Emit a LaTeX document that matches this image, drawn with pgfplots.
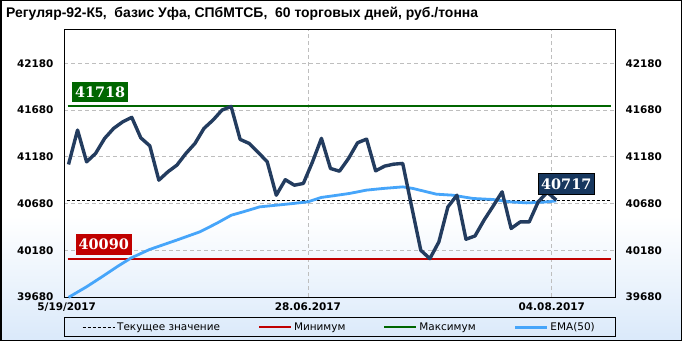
\documentclass[border=0pt]{standalone}
\usepackage{pgfplots}
\pgfplotsset{compat=1.18}
\usepackage{fontspec}
\setmainfont{DejaVu Sans}
\newfontfamily\titlefont{Liberation Sans}
\newfontfamily\boxfont{DejaVu Serif}
\definecolor{darkline}{RGB}{35,60,95}
\definecolor{emablue}{RGB}{70,165,250}
\definecolor{maxgreen}{RGB}{0,102,0}
\definecolor{minred}{RGB}{192,0,0}
\definecolor{navybox}{RGB}{23,55,94}
\definecolor{bgblue}{RGB}{218,233,250}
\definecolor{gridgray}{RGB}{190,190,190}
\begin{document}
\begin{tikzpicture}
% background
\fill[white] (0,0) rectangle (682bp,341bp);
\shade[top color=white, bottom color=bgblue] (0,0) rectangle (682bp,125bp);
\draw[black, line width=1.5bp] (0.75bp,0.75bp) rectangle (681.25bp,340.25bp);
% title
\node[anchor=west, inner sep=0pt] at (6bp,327bp) {\titlefont\bfseries\fontsize{14}{16}\selectfont Регуляр-92-К5,\ \ базис Уфа, СПбМТСБ,\ \ 60 торговых\ дней, руб./тонна};
% legend frame
\draw[black, line width=1bp] (64bp,4bp) rectangle (615bp,23bp);
\begin{axis}[
  at={(64bp,44bp)}, anchor=south west,
  scale only axis, width=551bp, height=268bp,
  xmin=-0.5, xmax=60.5, ymin=39680, ymax=42547,
  scaled y ticks=false, scaled x ticks=false,
  xtick={26.5,53.5}, xticklabels={28.06.2017,04.08.2017},
  extra x ticks={-0.2}, extra x tick labels={5/19/2017},
  extra x tick style={grid=none},
  ytick={39680,40180,40680,41180,41680,42180},
  yticklabels={39680,40180,40680,41180,41680,42180},
  grid=major,
  major grid style={gridgray, dash pattern=on 4bp off 3bp, line width=0.6bp},
  major tick length=0pt,
  axis line style={black, line width=0.9bp},
  tick label style={font=\fontsize{10.5}{12}\selectfont\bfseries},
  yticklabel style={xshift=-7bp},
  xticklabel style={yshift=-2bp},
  clip=false,
  legend columns=4,
  legend style={draw=none, fill=none, at={(0.5,-0.1138)}, anchor=center,
    font=\fontsize{10.5}{12}\selectfont, inner sep=0pt,
    /tikz/every even column/.append style={column sep=36bp}},
  legend image code/.code={\draw[#1] (0bp,0bp) -- (32bp,0bp);},
]
\addplot[black, line width=0.9bp, dash pattern=on 3bp off 2bp] coordinates {(-0.2,40717) (60.1,40717)};
\addlegendentry{Текущее значение}
\addplot[minred, line width=2bp] coordinates {(-0.1,40090) (60.1,40090)};
\addlegendentry{Минимум}
\addplot[maxgreen, line width=2bp] coordinates {(-0.1,41718) (60.1,41718)};
\addlegendentry{Максимум}
\addplot[emablue, line width=2.8bp] coordinates {
(0,39676) (1.96,39787) (3.80,39902) (5.46,40009) (6.94,40098) (8.97,40188)
(11.93,40287) (14.51,40376) (16.36,40466) (18.02,40555) (19.30,40590)
(21.15,40644) (23.0,40662) (24.84,40680) (26.5,40698) (27.98,40745)
(29.27,40762) (31.12,40788) (32.97,40823) (34.81,40841) (37.02,40858)
(38.13,40841) (40.72,40780) (42.56,40769) (44.77,40734) (46.99,40723)
(48.84,40698) (50.69,40687) (52.52,40694) (54.0,40708)};
\addlegendentry{EMA(50)}
\addplot[darkline, line width=3.4bp, line join=round, forget plot] coordinates {
(0,41098) (1,41466) (2,41126) (3,41216) (4,41377) (5,41484) (6,41554)
(7,41602) (8,41383) (9,41297) (10,40930) (11,41019) (12,41091) (13,41216)
(14,41323) (15,41484) (16,41573) (17,41680) (18,41718) (19,41366) (20,41323)
(21,41227) (22,41126) (23,40769) (24,40935) (25,40876) (26,40895) (27,41123)
(28,41377) (29,41055) (30,41026) (31,41162) (32,41330) (33,41369) (34,41030)
(35,41080) (36,41101) (37,41109) (38,40641) (39,40180) (40,40090) (41,40269)
(42,40644) (43,40769) (44,40298) (45,40333) (46,40502) (47,40651) (48,40805)
(49,40413) (50,40483) (51,40483) (52,40698) (53,40801) (54,40717)};
\node[fill=maxgreen, text=white, font=\boxfont\bfseries\fontsize{14.5}{16}\selectfont, inner xsep=3bp, inner ysep=5bp] at (axis cs:3.5,41873) {41718};
\node[fill=minred, text=white, font=\boxfont\bfseries\fontsize{14.5}{16}\selectfont, inner xsep=3bp, inner ysep=5bp] at (axis cs:3.9,40244) {40090};
\node[fill=navybox, draw=black, line width=0.8bp, text=white, font=\boxfont\bfseries\fontsize{14.5}{16}\selectfont, inner xsep=3bp, inner ysep=5bp] at (axis cs:55.1,40887) {40717};
\end{axis}
\begin{axis}[
  at={(64bp,44bp)}, anchor=south west,
  scale only axis, width=551bp, height=268bp,
  xmin=-0.5, xmax=60.5, ymin=39680, ymax=42547,
  scaled y ticks=false,
  hide x axis,
  axis y line*=right,
  axis line style={draw=none},
  ytick={39680,40180,40680,41180,41680,42180},
  yticklabels={39680,40180,40680,41180,41680,42180},
  major tick length=0pt,
  tick label style={font=\fontsize{10.5}{12}\selectfont\bfseries},
  yticklabel style={xshift=7bp},
]
\end{axis}
\end{tikzpicture}
\end{document}
